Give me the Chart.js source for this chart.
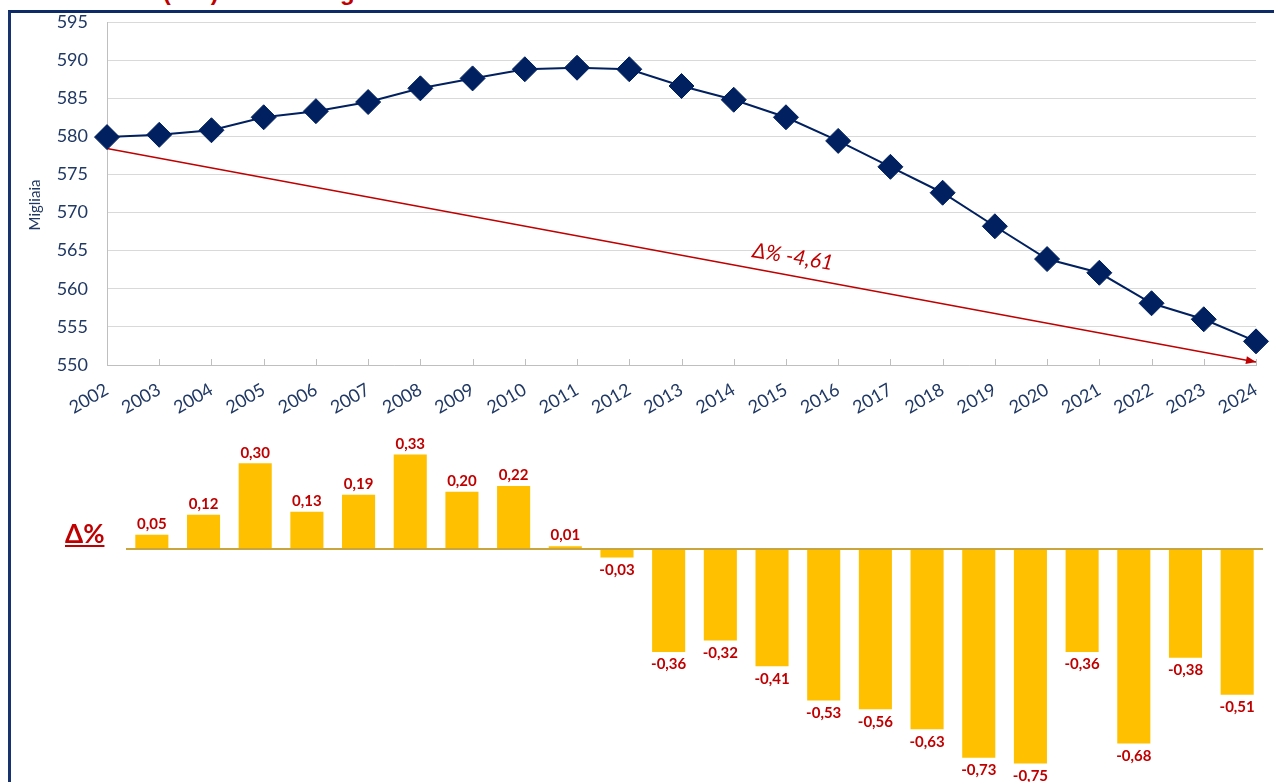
<!DOCTYPE html>
<html><head><meta charset="utf-8">
<script src="https://cdn.jsdelivr.net/npm/chart.js@4.4.1/dist/chart.umd.min.js"></script>
<style>
html,body{margin:0;padding:0;background:#fff;width:1274px;height:782px;overflow:hidden;}
#wrap{position:relative;width:1274px;height:782px;overflow:hidden;}
#frame{position:absolute;left:8px;top:10px;width:1300px;height:800px;border-top:3px solid #0d2b66;border-left:3px solid #17336f;box-sizing:border-box;}
canvas{position:absolute;left:0;top:0;}
#title{position:absolute;left:48px;top:-20px;font:bold 24px "Liberation Sans",Arial,sans-serif;color:#C00000;white-space:nowrap;line-height:24px;}
#dlab{position:absolute;left:65px;top:520px;font:bold 26px "Lato",sans-serif;color:#C00000;text-decoration:underline;line-height:26px;}
</style>
</head>
<body>
<div id="wrap">
  <div id="title">Residenti (000) – Trend regionale</div>
  <div id="frame"></div>
  <canvas id="c1" width="1274" height="782"></canvas>
  <canvas id="c2" width="1274" height="782"></canvas>
  <div id="dlab">Δ%</div>
</div>
<script>
// ---- data ----
const years = ['2002','2003','2004','2005','2006','2007','2008','2009','2010','2011','2012','2013','2014','2015','2016','2017','2018','2019','2020','2021','2022','2023','2024'];
const population = [579.9, 580.2, 580.8, 582.5, 583.3, 584.5, 586.3, 587.6, 588.8, 589.0, 588.8, 586.6, 584.8, 582.5, 579.4, 576.0, 572.6, 568.2, 563.9, 562.1, 558.1, 556.0, 553.1];
const trendStart = 578.4;
const trendEnd = 550.4;
const trendLabel = 'Δ% -4,61';
const barYears = years.slice(1);
const deltaPct = [0.05, 0.12, 0.30, 0.13, 0.19, 0.33, 0.20, 0.22, 0.01, -0.03, -0.36, -0.32, -0.41, -0.53, -0.56, -0.63, -0.73, -0.75, -0.36, -0.68, -0.38, -0.51];
const yMin = 550, yMax = 595, yStep = 5;
const yTitle = 'Migliaia';

const trendData = years.map((y, i) => i === 0 ? trendStart : (i === years.length - 1 ? trendEnd : null));

const NAVY = '#002060', TICK = '#203864', RED = '#C00000';

const topPlugin = {
  id: 'topExtras',
  beforeDatasetsDraw(chart) {
    const x = chart.scales.x, a = chart.chartArea, ctx = chart.ctx;
    ctx.save();
    ctx.strokeStyle = '#bfbfbf'; ctx.lineWidth = 1;
    for (let i = 0; i < x.ticks.length; i++) {
      const px = Math.round(x.getPixelForTick(i)) + 0.5;
      ctx.beginPath(); ctx.moveTo(px, a.bottom); ctx.lineTo(px, a.bottom - 6); ctx.stroke();
    }
    ctx.fillStyle = TICK; ctx.font = '15px Lato';
    ctx.textAlign = 'center'; ctx.textBaseline = 'middle';
    ctx.translate(35, 205);
    ctx.rotate(-Math.PI / 2);
    ctx.fillText(yTitle, 0, 0);
    ctx.restore();
  },
  afterDatasetsDraw(chart) {
    const meta = chart.getDatasetMeta(1);
    const p0 = meta.data[0], p1 = meta.data[meta.data.length - 1];
    const ctx = chart.ctx;
    const ang = Math.atan2(p1.y - p0.y, p1.x - p0.x);
    ctx.save();
    ctx.fillStyle = RED;
    ctx.translate(p1.x, p1.y); ctx.rotate(ang);
    ctx.beginPath(); ctx.moveTo(0, 0); ctx.lineTo(-10, -4); ctx.lineTo(-10, 4); ctx.closePath(); ctx.fill();
    ctx.restore();
    const t = 0.597;
    const lx = p0.x + (p1.x - p0.x) * t, ly = p0.y + (p1.y - p0.y) * t;
    ctx.save();
    ctx.translate(lx, ly - 19);
    ctx.rotate(ang * 0.9);
    ctx.fillStyle = RED; ctx.font = 'italic 21px Lato';
    ctx.textAlign = 'center'; ctx.textBaseline = 'middle';
    ctx.fillText(trendLabel, 0, 0);
    ctx.restore();
  }
};

new Chart(document.getElementById('c1'), {
  type: 'line',
  data: {
    labels: years,
    datasets: [
      { data: population, borderColor: NAVY, backgroundColor: NAVY, borderWidth: 2, pointStyle: 'rectRot', pointRadius: 12.5, pointHoverRadius: 12.5, pointBackgroundColor: NAVY, pointBorderColor: NAVY, pointBorderWidth: 1, tension: 0, order: 1, clip: false },
      { data: trendData, borderColor: RED, borderWidth: 1.5, pointRadius: 0, spanGaps: true, order: 2, clip: false }
    ]
  },
  options: {
    responsive: false, animation: false, events: [],
    layout: { padding: { left: 0, right: 18, top: 22, bottom: 357 } },
    plugins: { legend: { display: false }, tooltip: { enabled: false } },
    scales: {
      x: {
        offset: false,
        grid: { display: true, drawOnChartArea: false, drawTicks: false },
        border: { display: true, color: '#bfbfbf', width: 1 },
        ticks: { color: TICK, font: { family: 'Lato', size: 18 }, minRotation: 30, maxRotation: 30, padding: 14, autoSkip: false },
        afterFit(s) { s.height = 60; s.paddingLeft = 0; s.paddingRight = 0; s.paddingTop = 0; s.paddingBottom = 0; }
      },
      y: {
        min: yMin, max: yMax,
        ticks: { stepSize: yStep, color: TICK, font: { family: 'Lato', size: 18 }, padding: 19 },
        grid: { color: '#d9d9d9', drawTicks: false, lineWidth: 1 },
        border: { display: true, color: '#bfbfbf' },
        afterFit(s) { s.width = 107; s.paddingTop = 0; s.paddingBottom = 0; s.paddingLeft = 0; s.paddingRight = 0; }
      }
    }
  },
  plugins: [topPlugin]
});

const barPlugin = {
  id: 'barExtras',
  afterDatasetsDraw(chart) {
    const ctx = chart.ctx, a = chart.chartArea, y0 = chart.scales.y.getPixelForValue(0);
    ctx.save();
    ctx.strokeStyle = '#C9A540'; ctx.lineWidth = 2;
    ctx.beginPath(); ctx.moveTo(a.left, y0); ctx.lineTo(a.right, y0); ctx.stroke();
    const meta = chart.getDatasetMeta(0);
    ctx.fillStyle = RED; ctx.font = 'bold 15px Lato'; ctx.textAlign = 'center';
    meta.data.forEach((el, i) => {
      const v = deltaPct[i];
      const s = v.toFixed(2).replace('.', ',');
      if (v >= 0) { ctx.textBaseline = 'bottom'; ctx.fillText(s, el.x, el.y - 3); }
      else { ctx.textBaseline = 'top'; ctx.fillText(s, el.x, el.y + 5); }
    });
    ctx.restore();
  }
};

new Chart(document.getElementById('c2'), {
  type: 'bar',
  data: { labels: barYears, datasets: [{ data: deltaPct, backgroundColor: '#FFC000', barPercentage: 0.64, categoryPercentage: 1 }] },
  options: {
    responsive: false, animation: false, events: [],
    layout: { padding: { left: 126, right: 11, top: 434.6, bottom: 4.2 } },
    plugins: { legend: { display: false }, tooltip: { enabled: false } },
    scales: { x: { display: false }, y: { display: false, min: -0.8, max: 0.4 } }
  },
  plugins: [barPlugin]
});
</script>
</body></html>
